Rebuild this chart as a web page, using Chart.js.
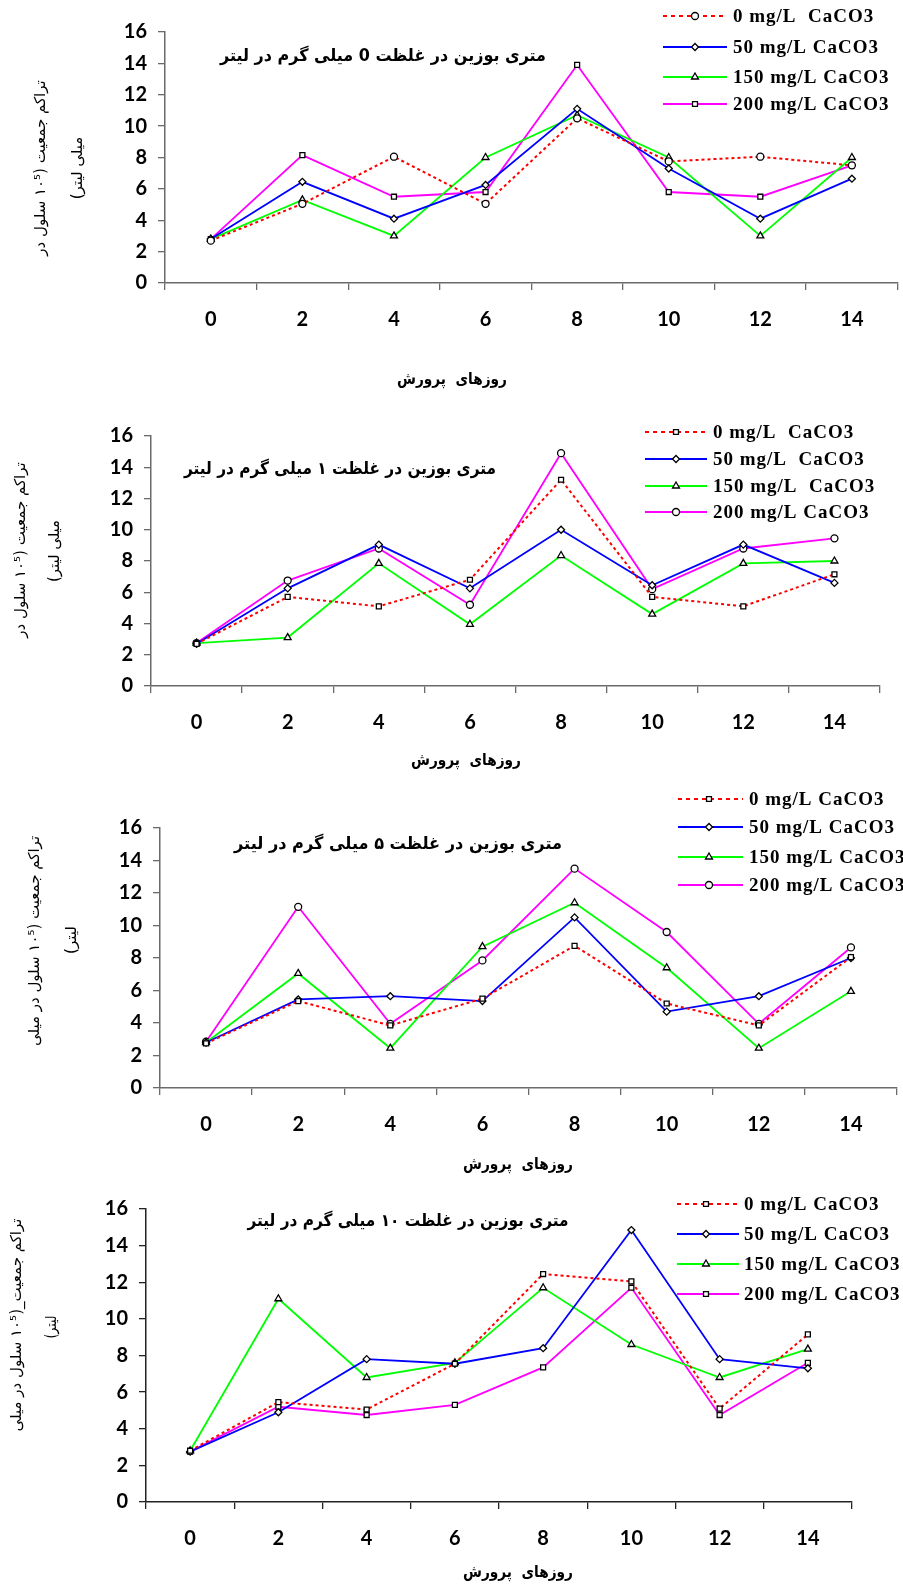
<!DOCTYPE html>
<html><head><meta charset="utf-8">
<script src="https://cdn.jsdelivr.net/npm/chart.js@4.4.1/dist/chart.umd.min.js"></script>
<style>
html,body{margin:0;padding:0;background:#fff;}
body{width:903px;height:1587px;position:relative;overflow:hidden;}
canvas.c{position:absolute;left:0;}
</style></head><body>
<canvas id="c1" class="c" width="903" height="395" style="top:0px"></canvas>
<canvas id="c2" class="c" width="903" height="380" style="top:395px"></canvas>
<canvas id="c3" class="c" width="903" height="412" style="top:775px"></canvas>
<canvas id="c4" class="c" width="903" height="417" style="top:1170px"></canvas>
<script>
// ---- data ----
const days = ['0','2','4','6','8','10','12','14'];
const yTicks = [0,2,4,6,8,10,12,14,16];

const legend1 = ['0 mg/L  CaCO3','50 mg/L CaCO3','150 mg/L CaCO3','200 mg/L CaCO3'];
const legend2 = ['0 mg/L  CaCO3','50 mg/L  CaCO3','150 mg/L  CaCO3','200 mg/L CaCO3'];
const legend3 = ['0 mg/L CaCO3','50 mg/L CaCO3','150 mg/L CaCO3','200 mg/L CaCO3'];
const legend4 = ['0 mg/L CaCO3','50 mg/L CaCO3','150 mg/L CaCO3','200 mg/L CaCO3'];

const c1_0   = [2.7, 5.05, 8.05, 5.05, 10.5, 7.75, 8.05, 7.5];
const c1_50  = [2.8, 6.45, 4.1, 6.25, 11.1, 7.3, 4.1, 6.65];
const c1_150 = [2.8, 5.3, 3.0, 8.0, 10.7, 8.0, 3.0, 8.0];
const c1_200 = [2.8, 8.15, 5.5, 5.8, 13.9, 5.8, 5.5, 7.5];

const c2_0   = [2.7, 5.7, 5.1, 6.8, 13.2, 5.7, 5.1, 7.15];
const c2_50  = [2.7, 6.25, 9.05, 6.25, 10.0, 6.45, 9.05, 6.6];
const c2_150 = [2.75, 3.1, 7.85, 3.95, 8.35, 4.6, 7.85, 8.0];
const c2_200 = [2.75, 6.75, 8.8, 5.2, 14.9, 6.2, 8.8, 9.45];

const c3_0   = [2.75, 5.35, 3.85, 5.5, 8.75, 5.2, 3.85, 8.05];
const c3_50  = [2.8, 5.45, 5.65, 5.35, 10.5, 4.7, 5.65, 8.0];
const c3_150 = [2.8, 7.05, 2.45, 8.7, 11.4, 7.4, 2.45, 5.95];
const c3_200 = [2.85, 11.15, 3.95, 7.85, 13.5, 9.6, 3.95, 8.65];

const c4_0   = [2.8, 5.45, 5.05, 7.55, 12.45, 12.05, 5.1, 9.15];
const c4_50  = [2.75, 4.9, 7.8, 7.55, 8.4, 14.85, 7.8, 7.3];
const c4_150 = [2.8, 11.1, 6.8, 7.6, 11.7, 8.6, 6.8, 8.35];
const c4_200 = [2.75, 5.2, 4.75, 5.3, 7.35, 11.7, 4.75, 7.6];

const titles = [
  'متری بوزین در غلظت 0 میلی گرم در لیتر',
  'متری بوزین در غلظت ۱ میلی گرم در لیتر',
  'متری بوزین در غلظت ۵ میلی گرم در لیتر',
  'متری بوزین در غلظت ۱۰ میلی گرم در لیتر'
];
const yTitles = [
  ['تراکم جمعیت (۱۰⁵ سلول در', 'میلی لیتر)'],
  ['تراکم جمعیت (۱۰⁵ سلول در', 'میلی لیتر)'],
  ['تراکم جمعیت (۱۰⁵ سلول در میلی', 'لیتر)'],
  ['تراکم جمعیت_(۱۰⁵ سلول در میلی', 'لیتر)']
];
const xTitle = 'روزهای  پرورش';

// ---- styling ----
const COLORS = ['#ff0000','#0000ff','#00ff00','#ff00ff'];
const styles = [
  ['circle','rectRot','triangle','rect'],
  ['rect','rectRot','triangle','circle'],
  ['rect','rectRot','triangle','circle'],
  ['rect','rectRot','triangle','rect']
];
const layouts = [
  {H:395, L:165, T:32, R:898, B:283, axis:'#6a6a6a',
   title:{x:383,y:57,w:326}, leg:{x1:663,x2:727,xm:695,xt:733,rows:[16,47,77,104]},
   yt:[{x:41,y:168,w:187},{x:78,y:168,w:64}], xt:{x:452,y:380,w:110}},
  {H:380, L:151, T:41, R:880, B:291, axis:'#6a6a6a',
   title:{x:340,y:75,w:312}, leg:{x1:645,x2:707,xm:676,xt:713,rows:[37,64,91,117]},
   yt:[{x:21,y:155,w:184},{x:55,y:156,w:62}], xt:{x:466,y:366,w:110}},
  {H:412, L:160, T:53, R:897, B:313, axis:'#6a6a6a',
   title:{x:398,y:70,w:328}, leg:{x1:678,x2:743,xm:709,xt:749,rows:[24,52,82,110]},
   yt:[{x:35,y:166,w:222},{x:72,y:165,w:35}], xt:{x:518,y:390,w:110}},
  {H:417, L:146, T:39, R:852, B:332, axis:'#222222',
   title:{x:408,y:52,w:321}, leg:{x1:677,x2:739,xm:706,xt:744,rows:[34,64,94,124]},
   yt:[{x:17,y:155,w:226},{x:52,y:157,w:23}], xt:{x:518,y:403,w:110}}
];
const seriesSets = [
  [c1_0,c1_50,c1_150,c1_200],
  [c2_0,c2_50,c2_150,c2_200],
  [c3_0,c3_50,c3_150,c3_200],
  [c4_0,c4_50,c4_150,c4_200]
];
const legends = [legend1,legend2,legend3,legend4];

const annotPlugin = {
  id:'annot',
  afterDraw(chart, args, o){
    const ctx = chart.ctx;
    ctx.save();
    ctx.fillStyle = '#000';
    ctx.direction = 'rtl';
    ctx.textAlign = 'center';
    ctx.textBaseline = 'middle';
    ctx.font = 'bold 17px "DejaVu Sans"';
    ctx.fillText(o.title, o.lay.title.x, o.lay.title.y, o.lay.title.w);
    ctx.font = 'bold 16px "DejaVu Sans"';
    ctx.fillText(o.xTitle, o.lay.xt.x, o.lay.xt.y, o.lay.xt.w);
    ctx.font = '15px "DejaVu Sans"';
    o.yTitle.forEach((t,i)=>{
      const p = o.lay.yt[i];
      ctx.save();
      ctx.translate(p.x, p.y);
      ctx.rotate(-Math.PI/2);
      ctx.fillText(t, 0, 0, p.w);
      ctx.restore();
    });
    ctx.direction = 'ltr';
    const lg = o.lay.leg;
    o.legend.forEach((txt,i)=>{
      const y = lg.rows[i];
      ctx.save();
      ctx.strokeStyle = COLORS[i];
      ctx.lineWidth = 2;
      ctx.setLineDash(i===0 ? [4,4] : []);
      ctx.beginPath(); ctx.moveTo(lg.x1,y); ctx.lineTo(lg.x2,y); ctx.stroke();
      ctx.restore();
      ctx.save();
      ctx.fillStyle = '#fff'; ctx.strokeStyle = '#000'; ctx.lineWidth = 1.3;
      Chart.helpers.drawPoint(ctx, {pointStyle:o.styles[i], radius: o.styles[i]==='triangle'?4:3.5, rotation:0, borderWidth:1.3}, lg.xm, y);
      ctx.restore();
      ctx.save();
      ctx.fillStyle = '#000';
      ctx.textAlign = 'left'; ctx.textBaseline = 'middle';
      ctx.font = 'bold 19px "Liberation Serif"';
      ctx.letterSpacing = '1px';
      ctx.fillText(txt, lg.xt, y+1);
      ctx.restore();
    });
    ctx.restore();
  }
};

function makeChart(k){
  const lay = layouts[k];
  const W = 903, YW = 60, XH = 60;
  const ds = seriesSets[k].map((arr,i)=>({
    label: legends[k][i],
    data: arr,
    borderColor: COLORS[i],
    backgroundColor: COLORS[i],
    borderWidth: i===0 ? 2 : 1.8,
    borderDash: i===0 ? [3,3] : [],
    tension: 0,
    pointStyle: styles[k][i],
    pointRadius: styles[k][i]==='triangle' ? 4 : 3.5,
    pointBorderColor: '#000',
    pointBackgroundColor: '#fff',
    pointBorderWidth: 1.3,
    fill: false
  }));
  const tickFont = {family:'Lato', weight:'bold', size:20};
  return new Chart(document.getElementById('c'+(k+1)), {
    type:'line',
    data:{labels: days, datasets: ds},
    plugins:[annotPlugin],
    options:{
      responsive:false, animation:false, devicePixelRatio:1,
      layout:{padding:{left: lay.L - YW, top: lay.T, right: W - lay.R, bottom: lay.H - lay.B - XH}},
      plugins:{legend:{display:false}, tooltip:{enabled:false}, title:{display:false},
        annot:{title: titles[k], xTitle: xTitle, yTitle: yTitles[k], legend: legends[k], styles: styles[k], lay: lay}},
      scales:{
        x:{type:'category', labels: days, offset:true,
           grid:{offset:true, drawOnChartArea:false, drawTicks:true, tickLength:7, color: lay.axis, lineWidth:1.3},
           border:{display:true, color: lay.axis, width:1.5},
           ticks:{font:tickFont, color:'#000', padding:18, maxRotation:0, autoSkip:false},
           afterFit(s){ s.height = XH; }},
        y:{min:0, max:16,
           afterBuildTicks(s){ s.ticks = yTicks.map(v=>({value:v})); },
           grid:{drawOnChartArea:false, drawTicks:true, tickLength:7, color: lay.axis, lineWidth:1.3},
           border:{display:true, color: lay.axis, width:1.5},
           ticks:{font:tickFont, color:'#000', padding:11},
           afterFit(s){ s.width = YW; }}
      }
    }
  });
}
[0,1,2,3].forEach(makeChart);
</script>
</body></html>
